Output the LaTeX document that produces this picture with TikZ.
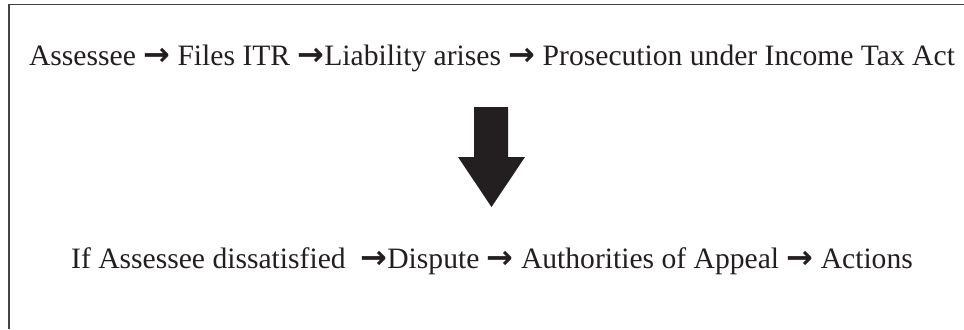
\documentclass[tikz,border=0pt]{standalone}
\usepackage{fontspec}
\setmainfont{Liberation Serif}
\newfontfamily\arrowfont{DejaVu Sans}
\definecolor{ink}{HTML}{231F20}
\newcommand{\ar}{{\arrowfont\bfseries\fontsize{24}{24}\selectfont →}}
\begin{document}
\begin{tikzpicture}[x=0.75pt,y=-0.75pt,
  flowtext/.style={anchor=base,inner sep=0pt,text=ink,font=\fontsize{22.2}{26}\selectfont},
  frame/.style={draw=ink!85,line width=1.1pt}]
\useasboundingbox (0,0) rectangle (964,329);
\draw[frame] (9,329) -- (9,4.5) -- (964,4.5);
\node[flowtext] (top) at (492,65) {Assessee \ar{} Files ITR \ar Liability arises \ar{} Prosecution under Income Tax Act};
\node[flowtext] (bot) at (492,268) {If Assessee dissatisfied\ \ \ar Dispute \ar{} Authorities of Appeal \ar{} Actions};
\fill[ink] (474,107) -- (508,107) -- (508,157) -- (525,157) -- (491.5,207) -- (458,157) -- (474,157) -- cycle;
\end{tikzpicture}
\end{document}
